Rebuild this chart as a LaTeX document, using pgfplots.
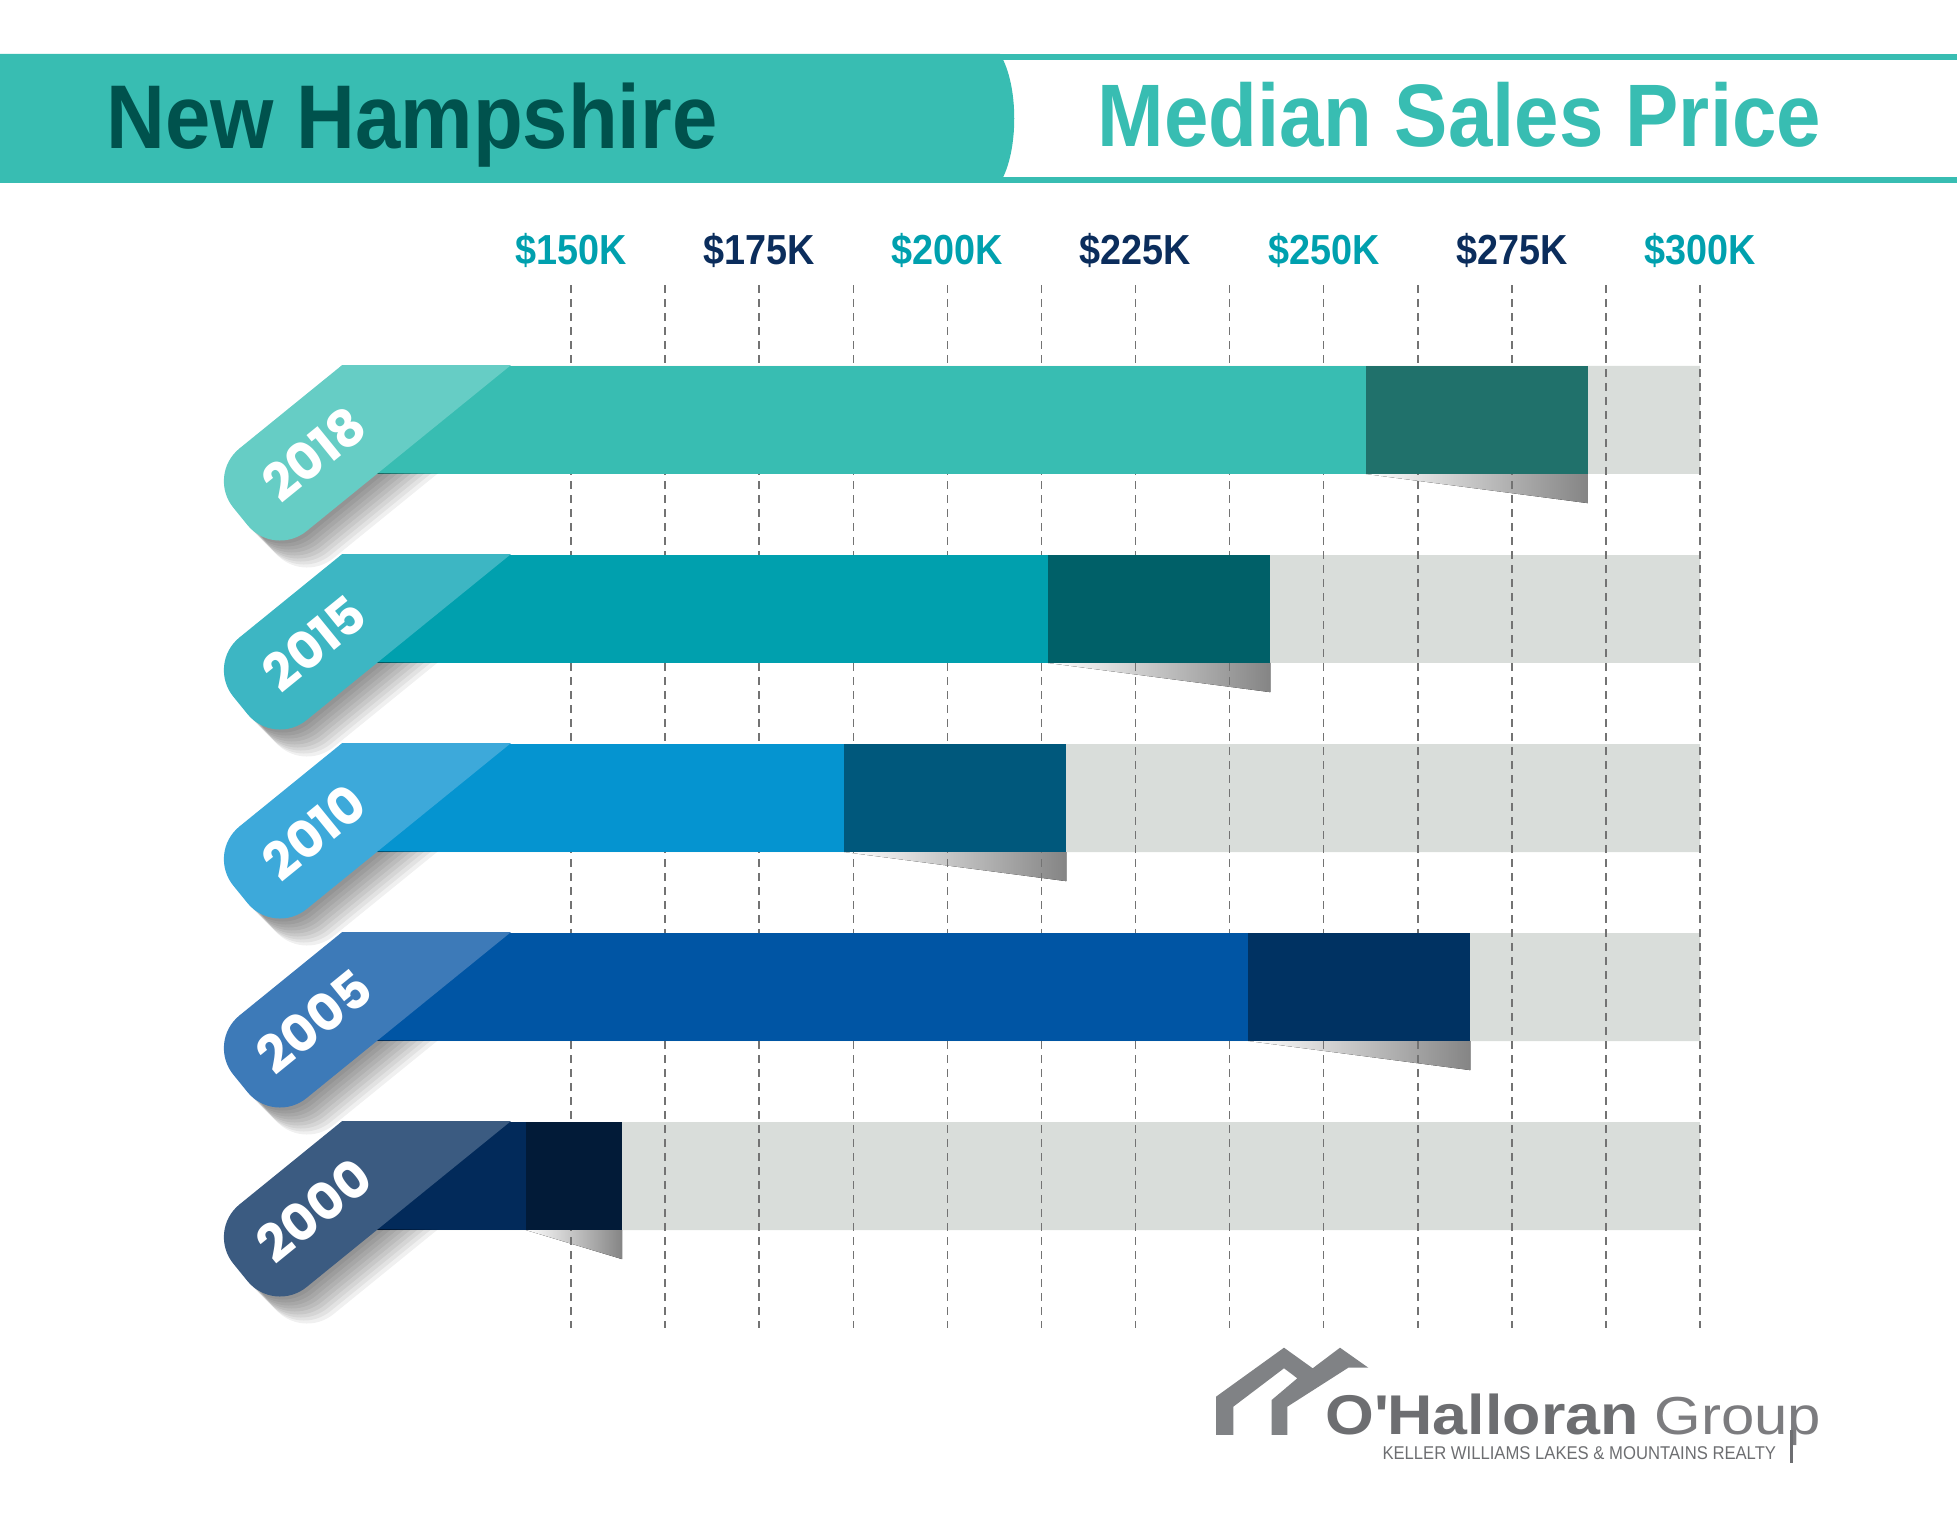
\documentclass[border=0pt]{standalone}
\usepackage{fontspec}
\setmainfont{Liberation Sans}
\newfontfamily\condfont[FakeStretch=0.9]{Liberation Sans}
\newfontfamily\widefont[FakeStretch=1.12]{Liberation Sans}
\newfontfamily\yearfont{Poppins}
\usepackage{pgfplots}
\usepackage{pgfplotstable}
\pgfplotsset{compat=1.18}

\definecolor{hdr}{HTML}{38BDB2}
\definecolor{hdrtext}{HTML}{00524D}
\definecolor{tkA}{HTML}{00A0AE}
\definecolor{tkB}{HTML}{0B2D5C}
\definecolor{track}{HTML}{D9DDDA}
\definecolor{logo}{HTML}{6D6E71}
\definecolor{icon}{HTML}{808285}
% per year: main bar, dark end, ribbon
\definecolor{main4}{HTML}{38BDB2}\definecolor{dark4}{HTML}{20716B}\definecolor{rib4}{HTML}{66CDC5}
\definecolor{main3}{HTML}{00A0AE}\definecolor{dark3}{HTML}{006068}\definecolor{rib3}{HTML}{3DB6C3}
\definecolor{main2}{HTML}{0594D0}\definecolor{dark2}{HTML}{00587C}\definecolor{rib2}{HTML}{3DA9DA}
\definecolor{main1}{HTML}{0055A4}\definecolor{dark1}{HTML}{003262}\definecolor{rib1}{HTML}{3D7AB8}
\definecolor{main0}{HTML}{022A5A}\definecolor{dark0}{HTML}{021B38}\definecolor{rib0}{HTML}{3B5B81}

% median sales price (K$): dark segment starts at split, bar ends at price
\pgfplotstableread{
row year split price
0 2000 144.0 156.8
1 2005 240.0 269.5
2 2010 186.3 215.8
3 2015 213.4 242.9
4 2018 255.6 285.1
}\prices

% ribbon tag, pixel units: #1 bar top, #2 colour, #3 year
\newcommand\ribbon[3]{%
  \begin{scope}
    \clip (0,{#1+108}) rectangle (760,{#1+270});
    \foreach \s in {3,6,...,27}
      \fill[black, opacity=0.06, rounded corners=16.8pt]
        ({535+\s},{#1-157.5+\s}) -- ({602.1+\s},{#1-74.9+\s}) -- ({273.9+\s},{#1+191.6+\s}) -- ({206.8+\s},{#1+109+\s}) -- cycle;
  \end{scope}
  \begin{scope}
    \clip (0,#1) rectangle (1957,1518);
    \fill[#2, rounded corners=16.8pt]
      (535,{#1-157.5}) -- (602.1,{#1-74.9}) -- (273.9,{#1+191.6}) -- (206.8,{#1+109}) -- cycle;
  \end{scope}
  \node[rotate=39.1, text=white, font=\yearfont\bfseries\fontsize{20.5pt}{20.5pt}\selectfont] at (314,{#1+88}) {#3};
}

\begin{document}
\begin{tikzpicture}
\begin{axis}[
  name=ax,
  scale only axis,
  width=782.8pt, height=607.2pt,
  xmin=74.14, xmax=334.14,
  ymin=-1.8095, ymax=6.2222,
  enlargelimits=false,
  x coord trafo/.code={\pgfmathparse{#1-119.4}},
  x coord inv trafo/.code={\pgfmathparse{#1+119.4}},
  axis line style={draw=none},
  major tick length=0pt,
  ytick=\empty,
  xtick={150,175,200,225,250,275,300},
  xticklabel pos=upper,
  xticklabels={\textcolor{tkA}{\$150K},\textcolor{tkB}{\$175K},\textcolor{tkA}{\$200K},
    \textcolor{tkB}{\$225K},\textcolor{tkA}{\$250K},\textcolor{tkB}{\$275K},\textcolor{tkA}{\$300K}},
  xticklabel style={anchor=base, yshift=-106pt, inner sep=0pt,
    font=\condfont\bfseries\fontsize{16.8pt}{16.8pt}\selectfont},
  mybar/.style={xbar, bar shift=0pt, bar width=0.5714, draw=none},
]
% grey tracks up to the end of the scale
\addplot[mybar, fill=track] table[x expr=300, y=row] {\prices};

% soft shadow under each bar end
\pgfplotsinvokeforeach{0,...,4}{
  \pgfplotstablegetelem{#1}{split}\of\prices \let\sv\pgfplotsretval
  \pgfplotstablegetelem{#1}{price}\of\prices \let\pv\pgfplotsretval
  \edef\tmp{\noexpand\fill[left color=white, right color=black!48]
    (axis cs:\sv,{#1-0.2857}) -- (axis cs:\pv,{#1-0.2857}) -- (axis cs:\pv,{#1-0.44}) -- cycle;}\tmp
}

% dashed guides
\pgfplotsinvokeforeach{150,162.5,...,300}{
  \draw[black!55, line width=0.6pt, dash pattern=on 3.2pt off 2.4pt]
    (axis cs:#1,4.714) -- (axis cs:#1,-0.804);
}

\pgfplotsinvokeforeach{0,...,4}{
  \addplot[mybar, fill=dark#1, y filter/.expression={y==#1 ? y : nan}] table[x=price, y=row] {\prices};
  \addplot[mybar, fill=main#1, y filter/.expression={y==#1 ? y : nan}] table[x=split, y=row] {\prices};
}
\end{axis}

\begin{scope}[shift={(ax.north west)}, x=0.4pt, y=-0.4pt]
  % header
  \fill[hdr] (0,54) rectangle (1957,60);
  \fill[hdr] (0,177) rectangle (1957,183);
  \fill[hdr] (0,54) -- (1000,54) .. controls (1019,85) and (1019,152) .. (1000,183) -- (0,183) -- cycle;
  \node[anchor=base west, inner sep=0pt, text=hdrtext,
    font=\condfont\bfseries\fontsize{36.2pt}{36.2pt}\selectfont] at (106,149) {New Hampshire};
  \node[anchor=base west, inner sep=0pt, text=hdr,
    font=\condfont\bfseries\fontsize{35.5pt}{35.5pt}\selectfont] at (1097,147) {Median Sales Price};

  % year tags
  \ribbon{366}{rib4}{2018}
  \ribbon{555}{rib3}{2015}
  \ribbon{744}{rib2}{2010}
  \ribbon{933}{rib1}{2005}
  \ribbon{1122}{rib0}{2000}

  % logo
  \fill[icon] (1216,1435) -- (1216,1396.7) -- (1284,1347.7) -- (1312.7,1368.3) -- (1340,1347.7)
    -- (1368.3,1367.7) -- (1348.3,1367.7) -- (1287.3,1406.7) -- (1287.3,1435) -- (1271.7,1435)
    -- (1271.7,1400) -- (1297.3,1378.3) -- (1284,1368.3) -- (1233.3,1406.7) -- (1233.3,1435) -- cycle;
  \node[anchor=base west, inner sep=0pt, text=logo,
    font=\widefont\bfseries\fontsize{22.4pt}{22.4pt}\selectfont] at (1325,1435) {O\textquotesingle Halloran};
  \node[anchor=base west, inner sep=0pt, text=logo!90,
    font=\widefont\fontsize{21.4pt}{21.4pt}\selectfont] at (1654,1435) {Group};
  \node[anchor=base west, inner sep=0pt, text=logo,
    font=\condfont\fontsize{7.4pt}{7.4pt}\selectfont] at (1382,1460) {KELLER WILLIAMS LAKES \& MOUNTAINS REALTY};
  \fill[logo] (1790,1430) rectangle (1793,1463);
\end{scope}
\pgfresetboundingbox
\useasboundingbox (ax.south west) rectangle (ax.north east);
\end{tikzpicture}
\end{document}
